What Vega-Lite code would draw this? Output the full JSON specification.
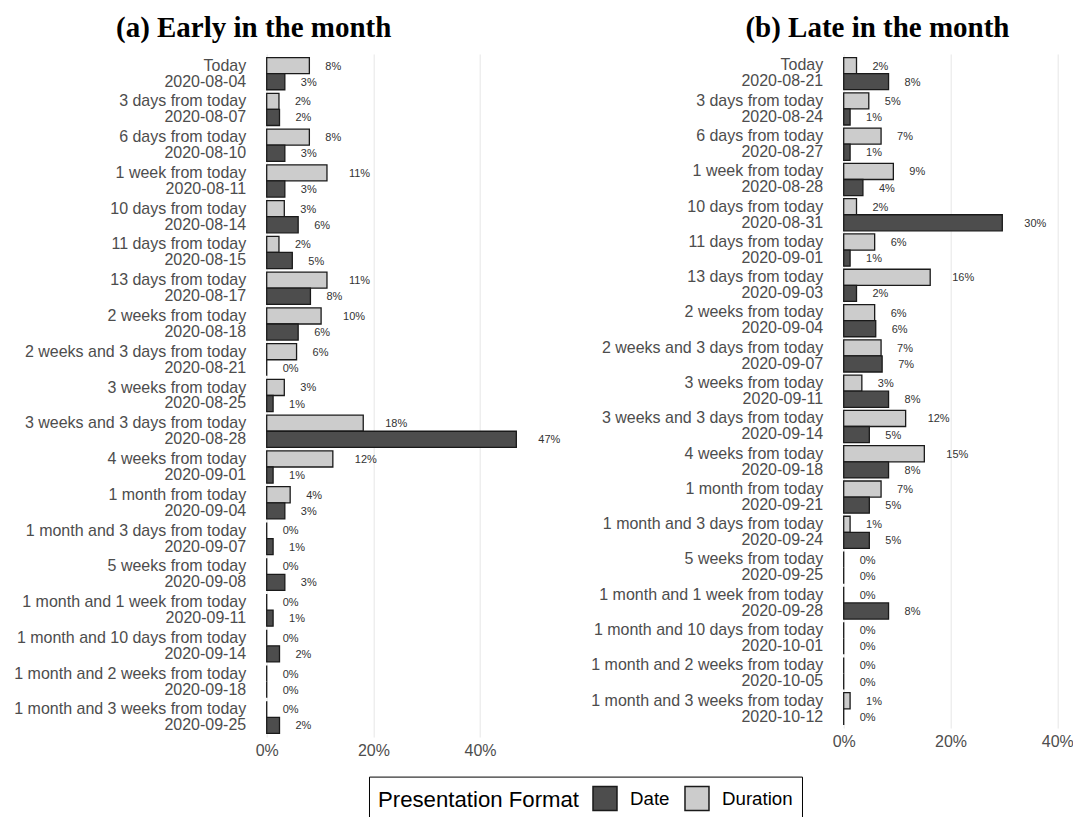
{
  "$schema": "https://vega.github.io/schema/vega-lite/v6.json",
  "padding": {"left": 12.7, "top": 14, "right": 0, "bottom": 0},
  "config": {
    "font": "Liberation Sans",
    "view": {"stroke": null},
    "concat": {"spacing": 29}
  },
  "datasets": {
    "early": [
      {"p": "Today|2020-08-04", "f": "Duration", "v": 0.080}, {"p": "Today|2020-08-04", "f": "Date", "v": 0.034},
      {"p": "3 days from today|2020-08-07", "f": "Duration", "v": 0.023}, {"p": "3 days from today|2020-08-07", "f": "Date", "v": 0.024},
      {"p": "6 days from today|2020-08-10", "f": "Duration", "v": 0.080}, {"p": "6 days from today|2020-08-10", "f": "Date", "v": 0.034},
      {"p": "1 week from today|2020-08-11", "f": "Duration", "v": 0.113}, {"p": "1 week from today|2020-08-11", "f": "Date", "v": 0.034},
      {"p": "10 days from today|2020-08-14", "f": "Duration", "v": 0.033}, {"p": "10 days from today|2020-08-14", "f": "Date", "v": 0.059},
      {"p": "11 days from today|2020-08-15", "f": "Duration", "v": 0.023}, {"p": "11 days from today|2020-08-15", "f": "Date", "v": 0.048},
      {"p": "13 days from today|2020-08-17", "f": "Duration", "v": 0.113}, {"p": "13 days from today|2020-08-17", "f": "Date", "v": 0.082},
      {"p": "2 weeks from today|2020-08-18", "f": "Duration", "v": 0.102}, {"p": "2 weeks from today|2020-08-18", "f": "Date", "v": 0.059},
      {"p": "2 weeks and 3 days from today|2020-08-21", "f": "Duration", "v": 0.056}, {"p": "2 weeks and 3 days from today|2020-08-21", "f": "Date", "v": 0},
      {"p": "3 weeks from today|2020-08-25", "f": "Duration", "v": 0.033}, {"p": "3 weeks from today|2020-08-25", "f": "Date", "v": 0.012},
      {"p": "3 weeks and 3 days from today|2020-08-28", "f": "Duration", "v": 0.181}, {"p": "3 weeks and 3 days from today|2020-08-28", "f": "Date", "v": 0.468},
      {"p": "4 weeks from today|2020-09-01", "f": "Duration", "v": 0.124}, {"p": "4 weeks from today|2020-09-01", "f": "Date", "v": 0.012},
      {"p": "1 month from today|2020-09-04", "f": "Duration", "v": 0.044}, {"p": "1 month from today|2020-09-04", "f": "Date", "v": 0.034},
      {"p": "1 month and 3 days from today|2020-09-07", "f": "Duration", "v": 0}, {"p": "1 month and 3 days from today|2020-09-07", "f": "Date", "v": 0.012},
      {"p": "5 weeks from today|2020-09-08", "f": "Duration", "v": 0}, {"p": "5 weeks from today|2020-09-08", "f": "Date", "v": 0.034},
      {"p": "1 month and 1 week from today|2020-09-11", "f": "Duration", "v": 0}, {"p": "1 month and 1 week from today|2020-09-11", "f": "Date", "v": 0.012},
      {"p": "1 month and 10 days from today|2020-09-14", "f": "Duration", "v": 0}, {"p": "1 month and 10 days from today|2020-09-14", "f": "Date", "v": 0.024},
      {"p": "1 month and 2 weeks from today|2020-09-18", "f": "Duration", "v": 0}, {"p": "1 month and 2 weeks from today|2020-09-18", "f": "Date", "v": 0},
      {"p": "1 month and 3 weeks from today|2020-09-25", "f": "Duration", "v": 0}, {"p": "1 month and 3 weeks from today|2020-09-25", "f": "Date", "v": 0.024}
    ],
    "late": [
      {"p": "Today|2020-08-21", "f": "Duration", "v": 0.024}, {"p": "Today|2020-08-21", "f": "Date", "v": 0.084},
      {"p": "3 days from today|2020-08-24", "f": "Duration", "v": 0.047}, {"p": "3 days from today|2020-08-24", "f": "Date", "v": 0.012},
      {"p": "6 days from today|2020-08-27", "f": "Duration", "v": 0.070}, {"p": "6 days from today|2020-08-27", "f": "Date", "v": 0.012},
      {"p": "1 week from today|2020-08-28", "f": "Duration", "v": 0.093}, {"p": "1 week from today|2020-08-28", "f": "Date", "v": 0.036},
      {"p": "10 days from today|2020-08-31", "f": "Duration", "v": 0.024}, {"p": "10 days from today|2020-08-31", "f": "Date", "v": 0.297},
      {"p": "11 days from today|2020-09-01", "f": "Duration", "v": 0.058}, {"p": "11 days from today|2020-09-01", "f": "Date", "v": 0.012},
      {"p": "13 days from today|2020-09-03", "f": "Duration", "v": 0.162}, {"p": "13 days from today|2020-09-03", "f": "Date", "v": 0.024},
      {"p": "2 weeks from today|2020-09-04", "f": "Duration", "v": 0.058}, {"p": "2 weeks from today|2020-09-04", "f": "Date", "v": 0.060},
      {"p": "2 weeks and 3 days from today|2020-09-07", "f": "Duration", "v": 0.070}, {"p": "2 weeks and 3 days from today|2020-09-07", "f": "Date", "v": 0.072},
      {"p": "3 weeks from today|2020-09-11", "f": "Duration", "v": 0.034}, {"p": "3 weeks from today|2020-09-11", "f": "Date", "v": 0.084},
      {"p": "3 weeks and 3 days from today|2020-09-14", "f": "Duration", "v": 0.116}, {"p": "3 weeks and 3 days from today|2020-09-14", "f": "Date", "v": 0.048},
      {"p": "4 weeks from today|2020-09-18", "f": "Duration", "v": 0.151}, {"p": "4 weeks from today|2020-09-18", "f": "Date", "v": 0.084},
      {"p": "1 month from today|2020-09-21", "f": "Duration", "v": 0.070}, {"p": "1 month from today|2020-09-21", "f": "Date", "v": 0.048},
      {"p": "1 month and 3 days from today|2020-09-24", "f": "Duration", "v": 0.012}, {"p": "1 month and 3 days from today|2020-09-24", "f": "Date", "v": 0.048},
      {"p": "5 weeks from today|2020-09-25", "f": "Duration", "v": 0}, {"p": "5 weeks from today|2020-09-25", "f": "Date", "v": 0},
      {"p": "1 month and 1 week from today|2020-09-28", "f": "Duration", "v": 0}, {"p": "1 month and 1 week from today|2020-09-28", "f": "Date", "v": 0.084},
      {"p": "1 month and 10 days from today|2020-10-01", "f": "Duration", "v": 0}, {"p": "1 month and 10 days from today|2020-10-01", "f": "Date", "v": 0},
      {"p": "1 month and 2 weeks from today|2020-10-05", "f": "Duration", "v": 0}, {"p": "1 month and 2 weeks from today|2020-10-05", "f": "Date", "v": 0},
      {"p": "1 month and 3 weeks from today|2020-10-12", "f": "Duration", "v": 0.012}, {"p": "1 month and 3 weeks from today|2020-10-12", "f": "Date", "v": 0}
    ]
  },
  "hconcat": [
    {
      "title": {"text": "(a) Early in the month", "font": "Liberation Serif", "fontSize": 29, "fontWeight": "bold", "color": "black", "anchor": "start", "frame": "group", "dx": -150.7, "baseline": "alphabetic", "offset": -12},
      "width": 266.7,
      "height": 683,
      "data": {"name": "early"},
      "encoding": {
        "y": {"field": "p", "type": "nominal", "sort": null, "scale": {"paddingInner": 0.1, "paddingOuter": 0.1},
              "axis": {"title": null, "labelExpr": "split(datum.label, '|')", "labelFontSize": 16, "labelColor": "#4d4d4d", "labelLineHeight": 16, "labelOffset": -8, "ticks": false, "tickSize": 0, "domain": false, "labelPadding": 21, "labelLimit": 400, "grid": false}},
        "yOffset": {"field": "f", "type": "nominal", "sort": ["Duration", "Date"], "scale": {"paddingInner": 0, "paddingOuter": 0}},
        "x": {"field": "v", "type": "quantitative", "stack": null, "scale": {"domain": [0, 0.5], "nice": false},
              "axis": {"title": null, "format": ".0%", "values": [0, 0.2, 0.4], "labelFontSize": 16, "labelColor": "#4d4d4d", "labelFlush": false, "ticks": false, "tickSize": 0, "domain": false, "grid": true, "gridColor": "#e6e6e6", "labelPadding": 6}}
      },
      "layer": [
        {"mark": {"type": "bar", "stroke": "#1a1a1a", "strokeWidth": 1.3},
         "encoding": {"color": {"field": "f", "type": "nominal", "scale": {"domain": ["Date", "Duration"], "range": ["#4d4d4d", "#cccccc"]},
           "legend": {"title": "Presentation Format", "orient": "none", "legendX": 102.3, "legendY": 722.6, "direction": "horizontal", "titleOrient": "left", "titleLimit": 500, "labelLimit": 300, "symbolType": "square", "symbolSize": 576, "symbolStrokeColor": "#1a1a1a", "symbolStrokeWidth": 1.5, "labelFontSize": 18.7, "labelColor": "black", "titleFontSize": 22.2, "titleFontWeight": "normal", "titleColor": "black", "titlePadding": 12, "labelOffset": 12, "columnPadding": 12, "strokeColor": "black", "padding": 9}}}},
        {"transform": [{"filter": "datum.v < 0.095"}],
         "mark": {"type": "text", "align": "left", "baseline": "middle", "dx": 16, "dy": 1, "fontSize": 11, "fill": "#333333"},
         "encoding": {"text": {"field": "v", "type": "quantitative", "format": ".0%"}}},
        {"transform": [{"filter": "datum.v >= 0.095"}],
         "mark": {"type": "text", "align": "left", "baseline": "middle", "dx": 22, "dy": 1, "fontSize": 11, "fill": "#333333"},
         "encoding": {"text": {"field": "v", "type": "quantitative", "format": ".0%"}}}
      ]
    },
    {
      "title": {"text": "(b) Late in the month", "font": "Liberation Serif", "fontSize": 29, "fontWeight": "bold", "color": "black", "anchor": "start", "frame": "group", "dx": -98.3, "baseline": "alphabetic", "offset": -12},
      "width": 224.3,
      "height": 674,
      "data": {"name": "late"},
      "encoding": {
        "y": {"field": "p", "type": "nominal", "sort": null, "scale": {"paddingInner": 0.1, "paddingOuter": 0.1},
              "axis": {"title": null, "labelExpr": "split(datum.label, '|')", "labelFontSize": 16, "labelColor": "#4d4d4d", "labelLineHeight": 16, "labelOffset": -8, "ticks": false, "tickSize": 0, "domain": false, "labelPadding": 21, "labelLimit": 400, "grid": false}},
        "yOffset": {"field": "f", "type": "nominal", "sort": ["Duration", "Date"], "scale": {"paddingInner": 0, "paddingOuter": 0}},
        "x": {"field": "v", "type": "quantitative", "stack": null, "scale": {"domain": [0, 0.42], "nice": false},
              "axis": {"title": null, "format": ".0%", "values": [0, 0.2, 0.4], "labelFontSize": 16, "labelColor": "#4d4d4d", "labelFlush": false, "ticks": false, "tickSize": 0, "domain": false, "grid": true, "gridColor": "#e6e6e6", "labelPadding": 6}}
      },
      "layer": [
        {"mark": {"type": "bar", "stroke": "#1a1a1a", "strokeWidth": 1.3},
         "encoding": {"color": {"field": "f", "type": "nominal", "scale": {"domain": ["Date", "Duration"], "range": ["#4d4d4d", "#cccccc"]}}}},
        {"transform": [{"filter": "datum.v < 0.095"}],
         "mark": {"type": "text", "align": "left", "baseline": "middle", "dx": 16, "dy": 1, "fontSize": 11, "fill": "#333333"},
         "encoding": {"text": {"field": "v", "type": "quantitative", "format": ".0%"}}},
        {"transform": [{"filter": "datum.v >= 0.095"}],
         "mark": {"type": "text", "align": "left", "baseline": "middle", "dx": 22, "dy": 1, "fontSize": 11, "fill": "#333333"},
         "encoding": {"text": {"field": "v", "type": "quantitative", "format": ".0%"}}}
      ]
    }
  ],
  "resolve": {"scale": {"color": "shared"}}
}
